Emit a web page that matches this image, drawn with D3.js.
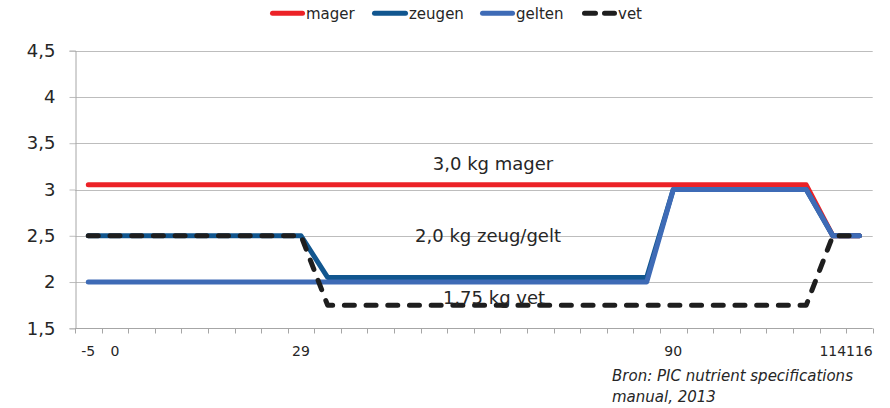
<!DOCTYPE html>
<html>
<head>
<meta charset="utf-8">
<script src="https://cdn.jsdelivr.net/npm/d3@7"></script>
<style>
  html, body { margin: 0; padding: 0; background: #fff; }
  svg { display: block; font-family: "DejaVu Sans", Verdana, sans-serif; }
</style>
</head>
<body>
<svg id="chart" width="890" height="408"></svg>
<script>
// Days relative to farrowing; only selected days carry a label
const categories = ["-5","0","","","","","","","29","","","","","","","","","","","","","","90","","","","","","114","116"];

// Daily feed allowance (kg) per animal group
const mager  = [3.05,3.05,3.05,3.05,3.05,3.05,3.05,3.05,3.05,3.05,3.05,3.05,3.05,3.05,3.05,3.05,3.05,3.05,3.05,3.05,3.05,3.05,3.05,3.05,3.05,3.05,3.05,3.05,2.5,2.5];
const zeugen = [2.5,2.5,2.5,2.5,2.5,2.5,2.5,2.5,2.5,2.05,2.05,2.05,2.05,2.05,2.05,2.05,2.05,2.05,2.05,2.05,2.05,2.05,3.0,3.0,3.0,3.0,3.0,3.0,2.5,2.5];
const gelten = [2.0,2.0,2.0,2.0,2.0,2.0,2.0,2.0,2.0,2.0,2.0,2.0,2.0,2.0,2.0,2.0,2.0,2.0,2.0,2.0,2.0,2.0,3.0,3.0,3.0,3.0,3.0,3.0,2.5,2.5];
const vet    = [2.5,2.5,2.5,2.5,2.5,2.5,2.5,2.5,2.5,1.75,1.75,1.75,1.75,1.75,1.75,1.75,1.75,1.75,1.75,1.75,1.75,1.75,1.75,1.75,1.75,1.75,1.75,1.75,2.5,2.5];

const yTicks = [1.5, 2, 2.5, 3, 3.5, 4, 4.5];
const seriesNames = ["mager", "zeugen", "gelten", "vet"];
const annotations = ["3,0 kg mager", "2,0 kg zeug/gelt", "1,75 kg vet"];
const sourceLines = ["Bron: PIC nutrient specifications", "manual, 2013"];

const series = [
  { name: seriesNames[0], values: mager,  color: "#EC2227", dash: null },
  { name: seriesNames[1], values: zeugen, color: "#11568F", dash: null },
  { name: seriesNames[2], values: gelten, color: "#3E6BB6", dash: null },
  { name: seriesNames[3], values: vet,    color: "#1E1E1E", dash: "10,11.7" }
];

const svg = d3.select("#chart");
const plot = { left: 75, right: 872.7, top: 50.7, bottom: 328.3 };

const x = d3.scaleBand()
  .domain(d3.range(categories.length))
  .range([plot.left, plot.right])
  .paddingInner(0).paddingOuter(0);

const y = d3.scaleLinear()
  .domain([1.5, 4.5])
  .range([plot.bottom, plot.top]);

const fmt = v => d3.format("~g")(v).replace(".", ",");

// Horizontal gridlines
svg.append("g")
  .selectAll("line")
  .data(yTicks.filter(t => t > 1.5))
  .join("line")
  .attr("x1", plot.left)
  .attr("x2", plot.right)
  .attr("y1", d => Math.round(y(d)) + 0.5)
  .attr("y2", d => Math.round(y(d)) + 0.5)
  .attr("stroke", "#BDBDBD")
  .attr("stroke-width", 1);

// Y axis
const yAxis = svg.append("g")
  .attr("transform", `translate(${plot.left + 0.5},0)`)
  .call(d3.axisLeft(y).tickValues(yTicks).tickSize(6).tickPadding(14).tickFormat(fmt));
yAxis.select(".domain").attr("stroke", "#A6A6A6");
yAxis.selectAll(".tick line").attr("stroke", "#BDBDBD");
yAxis.selectAll(".tick text")
  .attr("fill", "#262626")
  .style("font-size", "18px")
  .style("font-family", "'DejaVu Sans', sans-serif");

// X axis: ticks sit on category boundaries, labels at category centres
const xg = svg.append("g").attr("transform", `translate(0,${Math.round(plot.bottom) + 0.5})`);
xg.append("line")
  .attr("x1", plot.left).attr("x2", plot.right)
  .attr("stroke", "#A6A6A6");
xg.selectAll("line.tk")
  .data(d3.range(categories.length + 1))
  .join("line")
  .attr("class", "tk")
  .attr("x1", i => Math.round(plot.left + i * x.bandwidth()) + 0.5)
  .attr("x2", i => Math.round(plot.left + i * x.bandwidth()) + 0.5)
  .attr("y1", 0).attr("y2", 5)
  .attr("stroke", "#A6A6A6");
xg.selectAll("text")
  .data(categories.map((c, i) => ({ c, i })).filter(d => d.c !== ""))
  .join("text")
  .attr("x", d => x(d.i) + x.bandwidth() / 2)
  .attr("y", 27.5)
  .attr("text-anchor", "middle")
  .attr("fill", "#262626")
  .style("font-size", "14px")
  .text(d => d.c);

// Series lines
const line = d3.line()
  .x((d, i) => x(i) + x.bandwidth() / 2)
  .y(d => y(d));

svg.append("g")
  .selectAll("path")
  .data(series)
  .join("path")
  .attr("d", s => line(s.values))
  .attr("fill", "none")
  .attr("stroke", s => s.color)
  .attr("stroke-width", 5)
  .attr("stroke-linejoin", "round")
  .attr("stroke-linecap", "round")
  .attr("stroke-dasharray", s => s.dash);

// Annotations on the plot
const ann = [
  { text: annotations[0], x: 493, y: 170 },
  { text: annotations[1], x: 488, y: 242 },
  { text: annotations[2], x: 494, y: 304 }
];
svg.append("g")
  .selectAll("text")
  .data(ann)
  .join("text")
  .attr("x", d => d.x)
  .attr("y", d => d.y)
  .attr("text-anchor", "middle")
  .attr("fill", "#262626")
  .style("font-size", "18px")
  .text(d => d.text);

// Legend
const legendItems = [
  { s: series[0], x0: 270, x1: 305 },
  { s: series[1], x0: 372, x1: 408 },
  { s: series[2], x0: 480, x1: 515 },
  { s: series[3], x0: 582, x1: 617 }
];
const lg = svg.append("g");
legendItems.forEach(it => {
  lg.append("line")
    .attr("x1", it.x0 + 2.5).attr("x2", it.x1 - 2.5)
    .attr("y1", 13.3).attr("y2", 13.3)
    .attr("stroke", it.s.color)
    .attr("stroke-width", 5)
    .attr("stroke-linecap", "round")
    .attr("stroke-dasharray", it.s.dash ? "11,9" : null);
  lg.append("text")
    .attr("x", it.x1 + 1)
    .attr("y", 18.5)
    .attr("fill", "#262626")
    .style("font-size", "15px")
    .text(it.s.name);
});

// Source note
svg.append("g")
  .selectAll("text")
  .data(sourceLines)
  .join("text")
  .attr("x", 612)
  .attr("y", (d, i) => 381 + i * 21)
  .attr("fill", "#262626")
  .style("font-size", "15px")
  .style("font-style", "italic")
  .text(d => d);
</script>
</body>
</html>
